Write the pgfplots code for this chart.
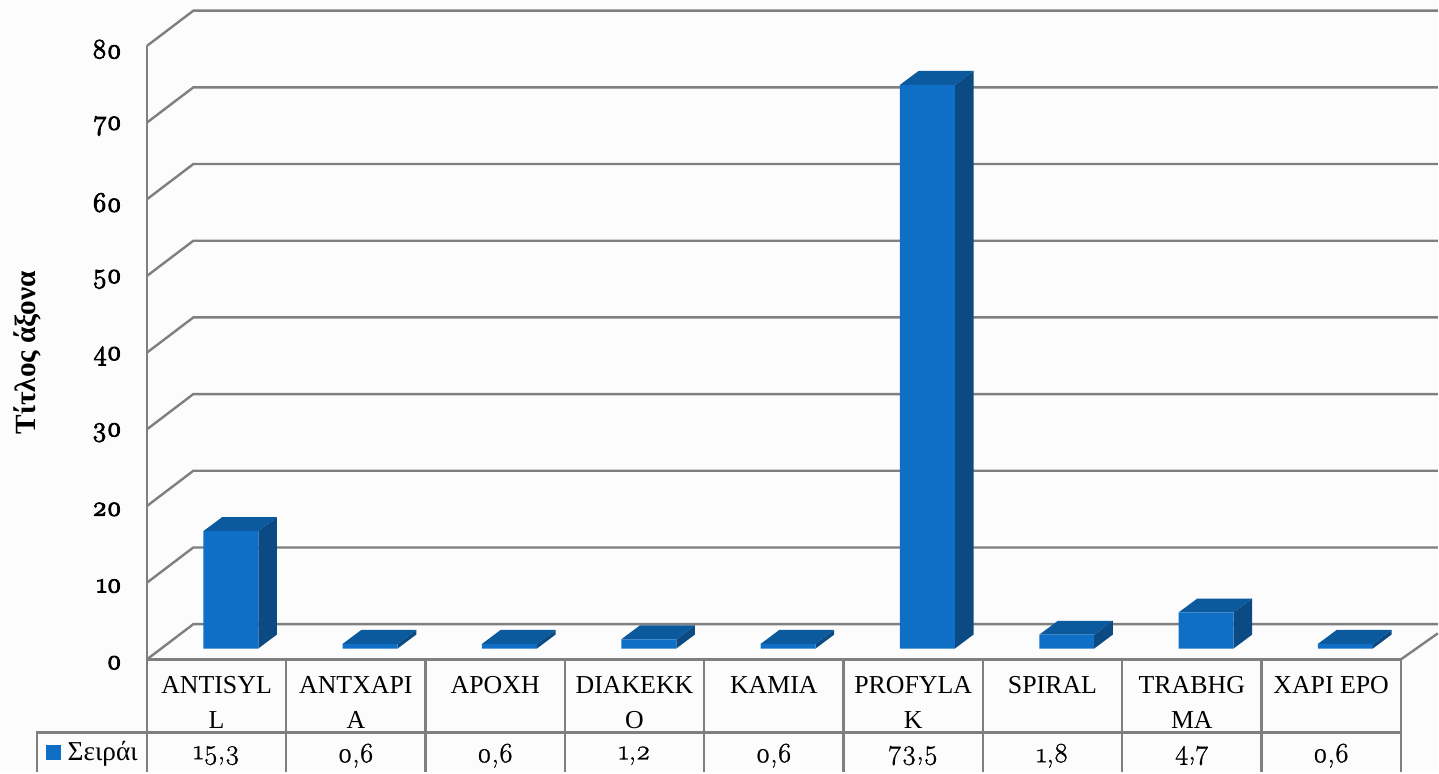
\documentclass[border=0pt]{standalone}
\usepackage{fontspec}
\setmainfont{Liberation Serif}
\newfontfamily\ofig{Latin Modern Roman}[Numbers=OldStyle,FakeBold=1]
\newfontfamily\ofigb{Latin Modern Roman}[Numbers=OldStyle,FakeBold=3.5]
\usepackage{pgfplots}
\pgfplotsset{compat=1.18}
\definecolor{gl}{HTML}{7F7F7F}
\definecolor{bf}{HTML}{0F6FC6}
\definecolor{bt}{HTML}{0B5A9E}
\definecolor{bs}{HTML}{0B4A82}
\definecolor{bg}{HTML}{FCFCFC}
% one 3D bar: side and top faces, at category centre #1, value #2 (front face comes from the ybar series)
\newcommand\faces[2]{%
  \pgfmathsetmacro\xl{#1-0.1972}\pgfmathsetmacro\xr{#1+0.1972}%
  \pgfmathsetmacro\xlb{\xl+0.134}\pgfmathsetmacro\xrb{\xr+0.134}%
  \pgfmathsetmacro\yb{1.82}\pgfmathsetmacro\vb{#2+1.82}%
  \addplot[fill=bs,draw=none,xshift=10.7pt,yshift=8.2pt] coordinates {(\xr,0) (\xrb,\yb) (\xrb,\vb) (\xr,#2)} -- cycle;
  \addplot[fill=bt,draw=none,xshift=10.7pt,yshift=8.2pt] coordinates {(\xl,#2) (\xr,#2) (\xrb,\vb) (\xlb,\vb)} -- cycle;
}
\newcommand\gridl[1]{%
  \pgfmathsetmacro\yy{#1+4.6}%
  \addplot[gl,line width=1.8pt] coordinates {(0,#1) (0.3335,\yy) (9.2656,\yy)};
}
\newcommand\cell[2]{\node[font=\fontsize{21}{24}\selectfont\ofig,anchor=center] at (axis cs:#1,-12.55) {#2};}
\begin{document}
\begin{tikzpicture}
\fill[bg] (0,0) rectangle (1079.25pt,579.75pt);
\begin{axis}[
  at={(110.25pt,84.75pt)},anchor=south west,
  scale only axis,width=941.25pt,height=460.5pt,
  xmin=0,xmax=9,ymin=0,ymax=80,clip=false,
  axis x line*=bottom,axis y line*=left,
  axis line style={-,draw=gl,line width=1.8pt},
  major tick length=0pt,
  xtick={0.5,1.5,2.5,3.5,4.5,5.5,6.5,7.5,8.5},
  xticklabels={ANTISYL\\L,ANTXAPI\\A,APOXH,DIAKEKK\\O,KAMIA,PROFYLA\\K,SPIRAL,TRABHG\\MA,XAPI EPO},
  x tick label style={align=center,anchor=north,yshift=-9pt,font=\fontsize{19.4}{26.4}\selectfont},
  ytick={0,10,...,80},
  y tick label style={anchor=east,xshift=-15.5pt,yshift=-2.5pt,font=\fontsize{21}{24}\selectfont\ofigb},
  /pgf/number format/assume math mode=true,
  ylabel={Τίτλος άξονα},
  y label style={at={(axis description cs:-0.0956,0.5)},anchor=center,font=\fontsize{22}{26}\selectfont\bfseries},
]
\gridl{0}\gridl{10}\gridl{20}\gridl{30}\gridl{40}\gridl{50}\gridl{60}\gridl{70}\gridl{80}
\addplot[gl,line width=1.8pt] coordinates {(9,0) (9.2656,3.4)};
% table rules
\addplot[gl,line width=1.8pt] coordinates {(-0.789,-14.72) (-0.789,-9.51) (9,-9.51)};
\addplot[gl,line width=1.8pt] coordinates {(0,0) (0,-14.72)};
\addplot[gl,line width=1.8pt] coordinates {(1,0) (1,-14.72)};
\addplot[gl,line width=1.8pt] coordinates {(2,0) (2,-14.72)};
\addplot[gl,line width=1.8pt] coordinates {(3,0) (3,-14.72)};
\addplot[gl,line width=1.8pt] coordinates {(4,0) (4,-14.72)};
\addplot[gl,line width=1.8pt] coordinates {(5,0) (5,-14.72)};
\addplot[gl,line width=1.8pt] coordinates {(6,0) (6,-14.72)};
\addplot[gl,line width=1.8pt] coordinates {(7,0) (7,-14.72)};
\addplot[gl,line width=1.8pt] coordinates {(8,0) (8,-14.72)};
\addplot[gl,line width=1.8pt] coordinates {(9,0) (9,-14.72)};
% bars
\faces{0.5}{15.3}\faces{1.5}{0.6}\faces{2.5}{0.6}\faces{3.5}{1.2}\faces{4.5}{0.6}\faces{5.5}{73.5}\faces{6.5}{1.8}\faces{7.5}{4.7}\faces{8.5}{0.6}
\addplot[ybar,bar width=41.25pt,fill=bf,draw=none,xshift=10.7pt,yshift=8.2pt] coordinates {(0.5,15.3) (1.5,0.6) (2.5,0.6) (3.5,1.2) (4.5,0.6) (5.5,73.5) (6.5,1.8) (7.5,4.7) (8.5,0.6)};
% data table row
\cell{0.5}{15,3}\cell{1.5}{0,6}\cell{2.5}{0,6}\cell{3.5}{1,2}\cell{4.5}{0,6}\cell{5.5}{73,5}\cell{6.5}{1,8}\cell{7.5}{4,7}\cell{8.5}{0,6}
\fill[bf] (axis cs:-0.7246,-11.2) rectangle (axis cs:-0.6170,-13.15);
\node[font=\fontsize{20.5}{24}\selectfont,anchor=west,inner sep=0pt] at (axis cs:-0.5703,-12.3) {Σειράι};
\end{axis}
\end{tikzpicture}
\end{document}
